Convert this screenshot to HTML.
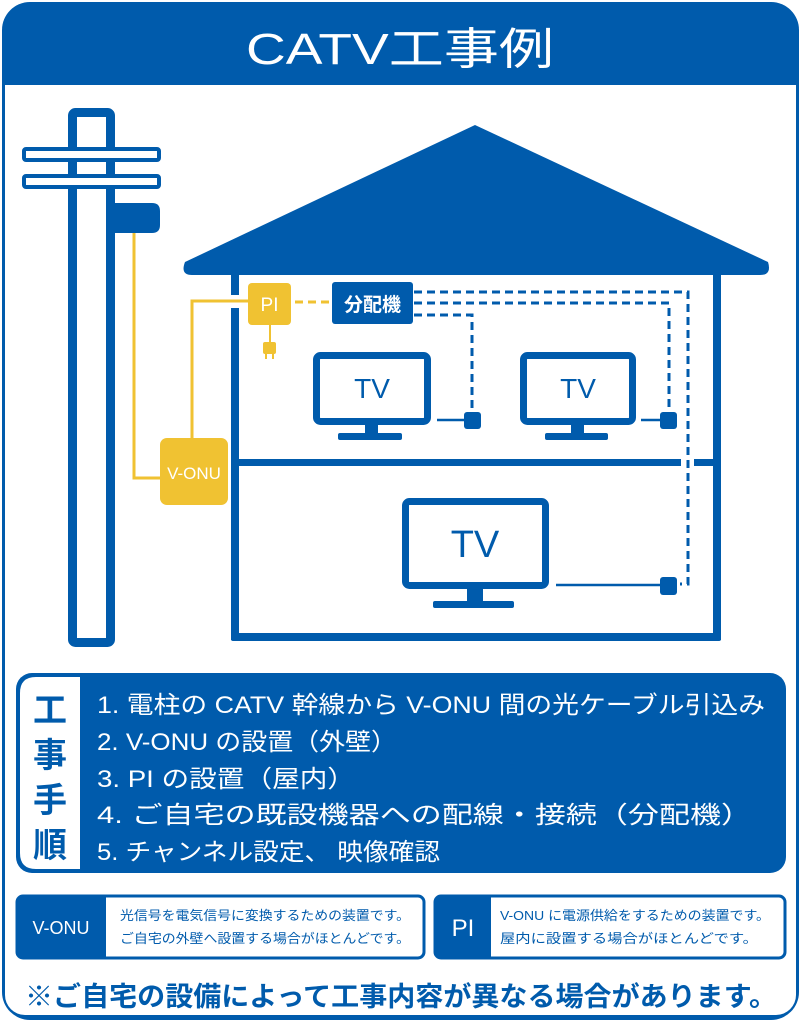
<!DOCTYPE html>
<html><head><meta charset="utf-8"><style>
html,body{margin:0;padding:0;background:#fff;}
svg{display:block;}
text{font-family:"Liberation Sans","Noto Sans CJK JP",sans-serif;}
</style></head><body>
<svg width="801" height="1024" viewBox="0 0 801 1024" xmlns="http://www.w3.org/2000/svg">
<!-- frame -->
<rect x="2" y="2" width="797" height="1018" rx="28" fill="#005bac"/>
<rect x="5" y="85" width="791" height="930" rx="20" fill="#fff"/>
<rect x="5" y="85" width="791" height="30" fill="#fff"/>
<text x="246" y="64" font-size="44" fill="#fff" textLength="308" lengthAdjust="spacingAndGlyphs">CATV工事例</text>

<!-- pole -->
<rect x="72.5" y="112.5" width="38" height="530" rx="3" fill="#fff" stroke="#005bac" stroke-width="9"/>
<rect x="24" y="149" width="135" height="11" rx="2" fill="#fff" stroke="#005bac" stroke-width="4"/>
<rect x="24" y="176" width="135" height="11" rx="2" fill="#fff" stroke="#005bac" stroke-width="4"/>
<rect x="72" y="160" width="5" height="16" fill="#005bac"/><rect x="107" y="160" width="5" height="16" fill="#005bac"/>
<path d="M115 203 H152 Q160 203 160 211 V225 Q160 233 152 233 H115 Z" fill="#005bac"/>

<!-- yellow lines -->
<polyline points="134,233 134,478 162,478" fill="none" stroke="#f0c232" stroke-width="3"/>
<polyline points="192,440 192,301 250,301" fill="none" stroke="#f0c232" stroke-width="3"/>
<line x1="295" y1="302" x2="330" y2="302" stroke="#f0c232" stroke-width="3" stroke-dasharray="8,5"/>
<rect x="160" y="438" width="68" height="67" rx="7" fill="#f0c232"/>
<text x="194" y="479" font-size="17" fill="#fff" text-anchor="middle">V-ONU</text>

<!-- house -->
<path d="M475 125 L768 262 Q772 275 760 275 L192 275 Q180 275 185 262 Z" fill="#005bac"/>
<rect x="231" y="275" width="8" height="20" fill="#005bac"/>
<rect x="231" y="308" width="8" height="332" fill="#005bac"/>
<rect x="713" y="275" width="8" height="365" fill="#005bac"/>
<rect x="231" y="633" width="490" height="8" rx="2" fill="#005bac"/>
<rect x="231" y="459" width="450" height="7" fill="#005bac"/>
<rect x="694" y="459" width="25" height="7" fill="#005bac"/>

<!-- PI -->
<rect x="248" y="283" width="43" height="42" rx="4" fill="#f0c232"/>
<text x="269.5" y="311" font-size="19" fill="#fff" text-anchor="middle">PI</text>
<line x1="270" y1="325" x2="270" y2="344" stroke="#f0c232" stroke-width="2"/>
<rect x="263" y="342" width="13" height="12" rx="2" fill="#f0c232"/>
<rect x="265" y="354" width="2" height="5" fill="#f0c232"/><rect x="272" y="354" width="2" height="5" fill="#f0c232"/>

<!-- 分配機 -->
<rect x="332" y="282" width="81" height="42" rx="3" fill="#005bac"/>
<text x="372.5" y="311" font-size="19" fill="#fff" text-anchor="middle" font-weight="bold">分配機</text>

<!-- dashed -->
<g fill="none" stroke="#005bac" stroke-width="3" stroke-dasharray="8,5">
<polyline points="414,292 688,292 688,584 680,584"/>
<polyline points="414,303 669,303 669,412"/>
<polyline points="414,315 472,315 472,412"/>
</g>

<!-- TVs -->
<g fill="none" stroke="#005bac" stroke-width="7">
<rect x="316.5" y="355.5" width="111" height="66" rx="4"/>
<rect x="523.5" y="355.5" width="109" height="66" rx="4"/>
<rect x="405.5" y="501.5" width="140" height="84" rx="4"/>
</g>
<g fill="#005bac">
<rect x="365" y="424" width="13" height="10"/><rect x="338" y="433" width="64" height="7" rx="2"/>
<rect x="571" y="424" width="13" height="10"/><rect x="545" y="433" width="63" height="7" rx="2"/>
<rect x="467" y="588" width="16" height="14"/><rect x="433" y="601" width="81" height="7" rx="2"/>
<rect x="464" y="412" width="17" height="17" rx="3"/>
<rect x="660" y="412" width="17" height="17" rx="3"/>
<rect x="660" y="577" width="17" height="18" rx="3"/>
</g>
<g stroke="#005bac" stroke-width="2.5">
<line x1="437" y1="420" x2="465" y2="420"/>
<line x1="641" y1="420" x2="661" y2="420"/>
<line x1="556" y1="585" x2="661" y2="585"/>
</g>
<g fill="#005bac" text-anchor="middle">
<text x="372" y="398" font-size="28">TV</text>
<text x="578" y="398" font-size="28">TV</text>
<text x="475" y="557" font-size="38">TV</text>
</g>

<!-- steps -->
<rect x="16" y="673" width="770" height="200" rx="16" fill="#005bac"/>
<path d="M80 677 H36 Q20 677 20 693 V853 Q20 869 36 869 H80 Z" fill="#fff"/>
<g font-size="34" fill="#005bac" text-anchor="middle" font-weight="bold">
<text x="50" y="722">工</text><text x="50" y="767">事</text><text x="50" y="812">手</text><text x="50" y="857">順</text>
</g>
<g font-size="24" fill="#fff" lengthAdjust="spacingAndGlyphs">
<text x="97" y="713" textLength="668" lengthAdjust="spacingAndGlyphs">1. 電柱の CATV 幹線から V-ONU 間の光ケーブル引込み</text>
<text x="97" y="750" textLength="300" lengthAdjust="spacingAndGlyphs">2. V-ONU の設置（外壁）</text>
<text x="97" y="787" textLength="258" lengthAdjust="spacingAndGlyphs">3. PI の設置（屋内）</text>
<text x="97" y="823" textLength="655" lengthAdjust="spacingAndGlyphs">4. ご自宅の既設機器への配線・接続（分配機）</text>
<text x="97" y="860" textLength="343" lengthAdjust="spacingAndGlyphs">5. チャンネル設定、 映像確認</text>
</g>

<!-- bottom boxes -->
<rect x="17" y="896" width="407" height="62" rx="6" fill="#fff" stroke="#005bac" stroke-width="3"/>
<path d="M23 896 H106 V958 H23 Q17 958 17 952 V902 Q17 896 23 896Z" fill="#005bac"/>
<text x="61" y="934" font-size="18" fill="#fff" text-anchor="middle">V-ONU</text>
<text x="120" y="920" font-size="13" fill="#005bac" textLength="290" lengthAdjust="spacingAndGlyphs">光信号を電気信号に変換するための装置です。</text>
<text x="120" y="943" font-size="13" fill="#005bac" textLength="290" lengthAdjust="spacingAndGlyphs">ご自宅の外壁へ設置する場合がほとんどです。</text>

<rect x="435" y="896" width="350" height="62" rx="6" fill="#fff" stroke="#005bac" stroke-width="3"/>
<path d="M441 896 H491 V958 H441 Q435 958 435 952 V902 Q435 896 441 896Z" fill="#005bac"/>
<text x="463" y="936" font-size="24" fill="#fff" text-anchor="middle">PI</text>
<text x="500" y="920" font-size="13" fill="#005bac" textLength="270" lengthAdjust="spacingAndGlyphs">V-ONU に電源供給をするための装置です。</text>
<text x="500" y="943" font-size="13" fill="#005bac" textLength="258" lengthAdjust="spacingAndGlyphs">屋内に設置する場合がほとんどです。</text>

<text x="25" y="1006" font-size="27" fill="#005bac" font-weight="bold" textLength="752" lengthAdjust="spacingAndGlyphs">※ご自宅の設備によって工事内容が異なる場合があります。</text>
</svg>
</body></html>
